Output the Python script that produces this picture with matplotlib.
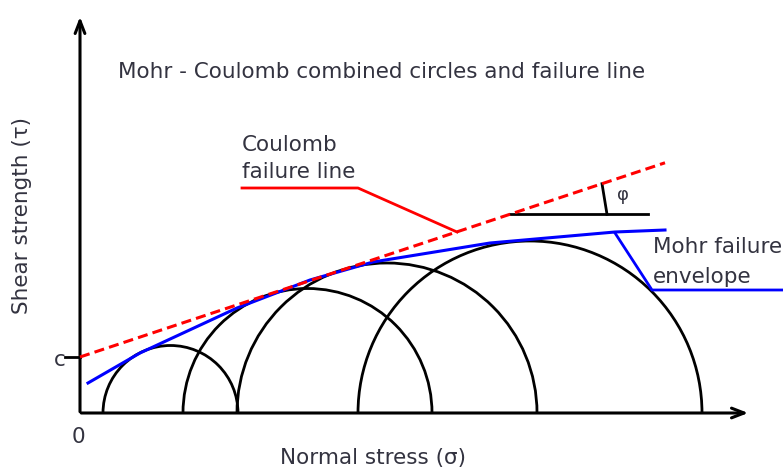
import matplotlib
matplotlib.use("Agg")
import matplotlib.pyplot as plt
from matplotlib.patches import Arc
import numpy as np

# principal stresses of the four test circles
sigma3 = [23, 103, 157, 278]
sigma1 = [158, 352, 457, 622]

# Coulomb failure line: tau = c + sigma * tan(phi)
cohesion = 56
tan_phi = 0.332
coulomb_sigma = [0, 585]

# Mohr failure envelope (curved)
envelope_sigma = [8, 60, 157, 230, 293, 410, 535, 585]
envelope_tau = [30, 60, 105, 133, 151, 170, 181, 183]

# leaders and the phi marker
coulomb_leader_x = [162, 278, 377]
coulomb_leader_y = [225, 225, 181]
mohr_leader_x = [535, 572, 703]
mohr_leader_y = [180, 123, 123]
phi_base_x = [430, 568]
phi_tick_x = [522, 527]

plt.rcParams['font.family'] = ['DejaVu Sans']
txt = '#333340'

fig = plt.figure(figsize=(7.83, 4.70), dpi=100)
ax = fig.add_axes([0, 0, 1, 1])
ax.set_xlim(-80, 703)
ax.set_ylim(-57, 413)
ax.axis('off')

# axes with arrows
ax.annotate('', xy=(0, 399), xytext=(0, -1.5),
            arrowprops=dict(arrowstyle='->,head_length=0.9,head_width=0.35', lw=2.2, color='black'))
ax.annotate('', xy=(671, 0), xytext=(-1.5, 0),
            arrowprops=dict(arrowstyle='->,head_length=0.9,head_width=0.35', lw=2.2, color='black'))

# Mohr circles
for s3, s1 in zip(sigma3, sigma1):
    centre = (s1 + s3) / 2
    radius = (s1 - s3) / 2
    ax.add_patch(Arc((centre, 0), 2 * radius, 2 * radius, theta1=0, theta2=180,
                     lw=2, color='black', zorder=2))

# Coulomb line
cs = np.array(coulomb_sigma)
ax.plot(cs, cohesion + tan_phi * cs, color='red', lw=2.2, dashes=(3.3, 1.7), zorder=4)

# Mohr envelope
ax.plot(envelope_sigma, envelope_tau, color='blue', lw=2.2, zorder=3)

# phi marker
phi_y = cohesion + tan_phi * phi_base_x[0]
ax.plot(phi_base_x, [phi_y, phi_y], color='black', lw=2)
ax.plot(phi_tick_x, [cohesion + tan_phi * phi_tick_x[0], phi_y], color='black', lw=2)
ax.text(543, 218, 'φ', fontsize=13, color=txt, ha='center', va='center')

# leaders
ax.plot(coulomb_leader_x, coulomb_leader_y, color='red', lw=2)
ax.plot(mohr_leader_x, mohr_leader_y, color='blue', lw=2)

# c tick
ax.plot([-15, 0], [cohesion, cohesion], color='black', lw=2)

# texts
fs = 15.5
ax.text(38, 341, 'Mohr - Coulomb combined circles and failure line', fontsize=fs,
        color=txt, ha='left', va='center')
ax.text(162, 268, 'Coulomb', fontsize=fs, color=txt, ha='left', va='center')
ax.text(162, 241, 'failure line', fontsize=fs, color=txt, ha='left', va='center')
ax.text(573, 166, 'Mohr failure', fontsize=fs, color=txt, ha='left', va='center')
ax.text(573, 136, 'envelope', fontsize=fs, color=txt, ha='left', va='center')
ax.text(-20, 53, 'c', fontsize=fs, color=txt, ha='center', va='center')
ax.text(-2, -24, '0', fontsize=fs, color=txt, ha='center', va='center')
ax.text(293, -51, 'Normal stress (σ)', fontsize=fs, color=txt, ha='center', va='baseline')
ax.text(-58, 197, 'Shear strength (τ)', fontsize=fs, color=txt, ha='center', va='center',
        rotation=90)

fig.savefig('out.png', dpi=100)
